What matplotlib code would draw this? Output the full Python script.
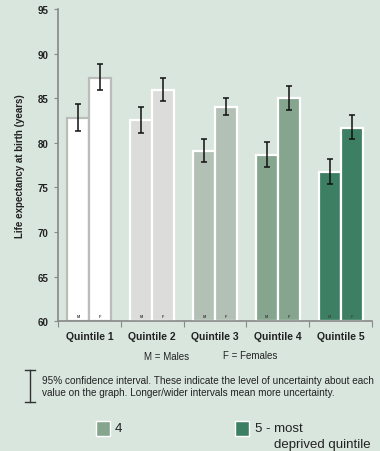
import matplotlib
matplotlib.use("Agg")
import matplotlib.pyplot as plt
import numpy as np

plt.rcParams["font.family"] = ["Liberation Sans", "DejaVu Sans"]

quintiles = ["Quintile 1", "Quintile 2", "Quintile 3", "Quintile 4", "Quintile 5"]
males = [82.85, 82.6, 79.1, 78.7, 76.75]
females = [87.3, 86.0, 84.1, 85.0, 81.7]
males_lo = [81.3, 81.1, 77.9, 77.35, 75.4]
males_hi = [84.4, 84.0, 80.45, 80.1, 78.2]
females_lo = [85.9, 84.7, 83.1, 83.75, 80.5]
females_hi = [88.9, 87.3, 85.1, 86.4, 83.1]
yticks = [60, 65, 70, 75, 80, 85, 90, 95]

bg = "#d9e6de"
fills = ["#ffffff", "#dcdddb", "#b3c0b5", "#86a58e", "#3d7f63"]
edges = ["#b9bcb9", "#ffffff", "#ffffff", "#ffffff", "#ffffff"]

fig = plt.figure(figsize=(3.8, 4.52), dpi=100, facecolor=bg)
ax = fig.add_axes([0.1526, 0.2876, 0.8264, 0.6892])
ax.set_facecolor(bg)

x = np.arange(len(quintiles))
w = 0.35
for i in x:
    for xpos, val, lo, hi, lab in [(i - w / 2, males[i], males_lo[i], males_hi[i], "M"),
                                   (i + w / 2, females[i], females_lo[i], females_hi[i], "F")]:
        ax.bar(xpos, val - 60, bottom=60, width=w, color=fills[i],
               edgecolor=edges[i], linewidth=1.6, zorder=2)
        ax.errorbar(xpos, val, yerr=[[val - lo], [hi - val]], fmt="none",
                    ecolor="#111111", elinewidth=1.1, capsize=2, capthick=1.1, zorder=3)
        ax.text(xpos, 60.35, lab, ha="center", va="bottom", fontsize=2.8,
                color="#444444", fontweight="bold", zorder=4)

ax.set_xlim(-0.5, 4.5)
ax.set_ylim(60, 95)
ax.set_yticks(yticks)
ax.set_yticklabels([str(t) for t in yticks], fontsize=7, fontweight="bold", color="#222222")
ax.set_xticks(np.arange(-0.5, 5, 1.0))
ax.set_xticklabels([])
ax.set_xticks(x, minor=True)
ax.set_xticklabels(quintiles, minor=True, fontsize=7.5, fontweight="bold", color="#222222")
ax.tick_params(axis="x", which="major", length=4, color="#888888", direction="out")
ax.tick_params(axis="x", which="minor", length=0, pad=7)
ax.tick_params(axis="y", length=3, color="#888888", pad=4)
for side in ["top", "right"]:
    ax.spines[side].set_visible(False)
for side in ["left", "bottom"]:
    ax.spines[side].set_color("#888888")
    ax.spines[side].set_linewidth(1.2)
ax.set_ylabel("Life expectancy at birth (years)", fontsize=7, fontweight="bold",
              color="#222222", labelpad=9)

# key below the chart
fig.text(167 / 380, 1 - 357 / 452, "M = Males", fontsize=7, ha="center", va="center", color="#222222")
fig.text(250 / 380, 1 - 356 / 452, "F = Females", fontsize=7, ha="center", va="center", color="#222222")

kx = 30 / 380
fig.add_artist(plt.Line2D([kx, kx], [1 - 371 / 452, 1 - 403 / 452], color="#333333", lw=1))
fig.add_artist(plt.Line2D([kx - 5 / 380, kx + 5 / 380], [1 - 371 / 452] * 2, color="#333333", lw=1))
fig.add_artist(plt.Line2D([kx - 5 / 380, kx + 5 / 380], [1 - 403 / 452] * 2, color="#333333", lw=1))
fig.text(42 / 380, 1 - 381 / 452,
         "95% confidence interval. These indicate the level of uncertainty about each",
         fontsize=7.2, ha="left", va="center", color="#222222")
fig.text(42 / 380, 1 - 393 / 452,
         "value on the graph. Longer/wider intervals mean more uncertainty.",
         fontsize=7.2, ha="left", va="center", color="#222222")

fig.add_artist(plt.Rectangle((96 / 380, 1 - 437 / 452), 14 / 380, 15 / 452,
                             facecolor=fills[3], edgecolor="white", lw=1))
fig.text(115 / 380, 1 - 429 / 452, "4", fontsize=9.5, ha="left", va="center", color="#222222")
fig.add_artist(plt.Rectangle((235 / 380, 1 - 437 / 452), 14 / 380, 15 / 452,
                             facecolor=fills[4], edgecolor="white", lw=1))
fig.text(255 / 380, 1 - 429 / 452, "5 - most", fontsize=9.5, ha="left", va="center", color="#222222")
fig.text(274 / 380, 1 - 445 / 452, "deprived quintile", fontsize=9.5, ha="left", va="center", color="#222222")

fig.savefig("out.png", dpi=100, facecolor=bg)
